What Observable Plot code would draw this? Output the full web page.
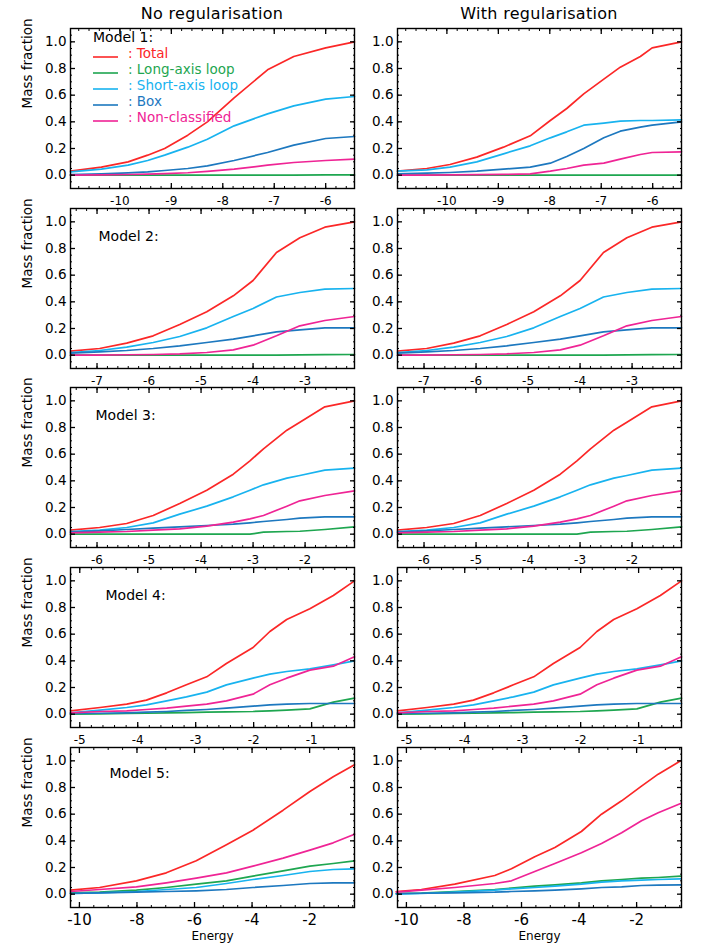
<!DOCTYPE html>
<html><head><meta charset="utf-8">
<script src="https://cdn.jsdelivr.net/npm/d3@7"></script>
<script src="https://cdn.jsdelivr.net/npm/@observablehq/plot@0.6"></script>
<style>
body{margin:0;background:#fff;font-family:"DejaVu Sans",sans-serif;}
#wrap{position:relative;width:709px;height:945px;overflow:hidden;}
.panel{position:absolute;}
.title{position:absolute;top:6px;font-size:16px;line-height:16px;letter-spacing:0.3px;transform:translateX(-50%);white-space:nowrap;color:#000;}
</style></head><body><div id="wrap"></div>
<script>
// ---------- categories / labels ----------
const seriesNames = ["Total","Long-axis loop","Short-axis loop","Box","Non-classified"];
const seriesColors = ["#fb2727","#1ea650","#18b3ef","#1d78bf","#ef2495"];
const columnTitles = ["No regularisation","With regularisation"];
const modelLabels = ["Model 1:","Model 2:","Model 3:","Model 4:","Model 5:"];
const xDomains = [[-10.96,-5.44],[-7.51,-2.05],[-6.51,-1.05],[-5.16,-0.26],[-10.31,-0.44]];
const xMajorTicks = [[-10,-9,-8,-7,-6],[-7,-6,-5,-4,-3],[-6,-5,-4,-3,-2],[-5,-4,-3,-2,-1],[-10,-8,-6,-4,-2]];
const xMinorSteps = [0.2,0.2,0.2,0.2,0.5];
const yMajorTicks = [0,0.2,0.4,0.6,0.8,1.0];
const xAxisTitle = "Energy";
const yAxisTitle = "Mass fraction";

// ---------- Model 1, no regularisation ----------
const m1E     = [-10.96,-10.36,-9.84,-9.46,-9.13,-8.68,-8.30,-7.78,-7.13,-6.62,-6.00,-5.44];
const m1Total = [0.03,0.06,0.10,0.15,0.20,0.30,0.40,0.58,0.79,0.89,0.955,1.0];
const m1Long  = [0,0,0,0,0,0,0,0,0,0,0.002,0.002];
const m1Short = [0.025,0.045,0.075,0.11,0.15,0.21,0.27,0.37,0.46,0.52,0.57,0.59];
const m1Box   = [0.005,0.01,0.017,0.025,0.035,0.05,0.07,0.11,0.17,0.225,0.275,0.29];
const m1Non   = [0,0.002,0.005,0.008,0.012,0.018,0.028,0.045,0.075,0.095,0.11,0.12];
// ---------- Model 1, with regularisation ----------
const m1rE     = [-10.96,-10.39,-9.94,-9.42,-8.90,-8.38,-7.99,-7.67,-7.34,-6.95,-6.63,-6.24,-6.01,-5.44];
const m1rTotal = [0.03,0.05,0.08,0.135,0.21,0.295,0.41,0.50,0.61,0.72,0.81,0.89,0.955,1.0];
const m1rLong  = [0,0,0,0,0,0,0,0,0,0,0,0,0,0];
const m1rShort = [0.03,0.04,0.06,0.10,0.16,0.22,0.28,0.325,0.375,0.39,0.405,0.41,0.41,0.415];
const m1rBox   = [0.01,0.015,0.02,0.03,0.045,0.06,0.09,0.14,0.20,0.28,0.33,0.36,0.375,0.40];
const m1rNon   = [0,0.001,0.002,0.004,0.006,0.01,0.03,0.05,0.075,0.09,0.12,0.155,0.17,0.175];
// ---------- Model 2 ----------
const m2E     = [-7.51,-6.95,-6.43,-5.92,-5.41,-4.89,-4.38,-4.00,-3.55,-3.10,-2.62,-2.05];
const m2Total = [0.03,0.05,0.09,0.145,0.23,0.325,0.445,0.56,0.77,0.88,0.96,1.0];
const m2Long  = [0,0,0,0,0,0,0,0,0,0.002,0.004,0.005];
const m2Short = [0.02,0.035,0.06,0.095,0.14,0.205,0.29,0.35,0.436,0.47,0.495,0.50];
const m2Box   = [0.015,0.025,0.035,0.05,0.07,0.095,0.12,0.145,0.175,0.19,0.205,0.205];
const m2Non   = [0,0.001,0.003,0.005,0.01,0.02,0.04,0.075,0.145,0.22,0.26,0.29];
// ---------- Model 3 ----------
const m3E     = [-6.51,-5.95,-5.43,-4.92,-4.41,-3.89,-3.38,-3.06,-2.80,-2.35,-2.10,-1.62,-1.05];
const m3Total = [0.03,0.05,0.08,0.14,0.23,0.33,0.45,0.55,0.64,0.78,0.84,0.955,1.0];
const m3Long  = [0,0,0,0,0,0,0,0,0.015,0.02,0.022,0.035,0.055];
const m3Short = [0.02,0.03,0.05,0.085,0.15,0.21,0.28,0.33,0.37,0.42,0.44,0.48,0.495];
const m3Box   = [0.015,0.025,0.035,0.045,0.055,0.065,0.075,0.085,0.095,0.11,0.12,0.13,0.13];
const m3Non   = [0.01,0.015,0.02,0.03,0.04,0.06,0.09,0.115,0.14,0.21,0.25,0.29,0.325];
// ---------- Model 4 ----------
const m4E     = [-5.16,-4.65,-4.19,-3.85,-3.50,-3.16,-2.81,-2.47,-2.01,-1.72,-1.43,-1.03,-0.625,-0.26];
const m4Total = [0.025,0.05,0.075,0.105,0.16,0.22,0.28,0.38,0.50,0.62,0.71,0.79,0.89,1.0];
const m4Long  = [0,0.002,0.005,0.007,0.01,0.012,0.015,0.017,0.02,0.025,0.03,0.04,0.09,0.12];
const m4Short = [0.01,0.03,0.05,0.07,0.10,0.13,0.165,0.22,0.27,0.30,0.32,0.34,0.37,0.40];
const m4Box   = [0.005,0.007,0.01,0.015,0.02,0.028,0.035,0.045,0.06,0.07,0.075,0.08,0.08,0.08];
const m4Non   = [0.01,0.02,0.025,0.035,0.045,0.06,0.075,0.10,0.15,0.22,0.27,0.33,0.36,0.43];
// ---------- Model 5, no regularisation ----------
const m5E     = [-10.31,-9.30,-8.02,-6.98,-5.94,-4.89,-3.97,-2.92,-1.99,-1.18,-0.44];
const m5Total = [0.03,0.05,0.10,0.16,0.25,0.37,0.48,0.63,0.77,0.88,0.97];
const m5Long  = [0.01,0.015,0.03,0.05,0.075,0.10,0.135,0.175,0.21,0.23,0.25];
const m5Short = [0.005,0.01,0.02,0.035,0.05,0.08,0.11,0.14,0.17,0.185,0.19];
const m5Box   = [0.005,0.01,0.015,0.02,0.025,0.035,0.05,0.065,0.08,0.085,0.085];
const m5Non   = [0.02,0.035,0.055,0.085,0.12,0.16,0.21,0.27,0.33,0.385,0.45];
// ---------- Model 5, with regularisation ----------
const m5rE     = [-10.35,-9.48,-8.32,-6.93,-6.35,-5.54,-4.84,-3.92,-3.22,-2.52,-1.83,-1.25,-0.47];
const m5rTotal = [0.02,0.035,0.075,0.14,0.19,0.28,0.35,0.47,0.60,0.70,0.81,0.90,1.0];
const m5rLong  = [0.005,0.008,0.02,0.035,0.045,0.06,0.07,0.085,0.10,0.11,0.12,0.125,0.135];
const m5rShort = [0.0,0.005,0.015,0.03,0.04,0.05,0.06,0.075,0.09,0.10,0.105,0.11,0.115];
const m5rBox   = [0.005,0.007,0.01,0.015,0.02,0.025,0.03,0.04,0.05,0.055,0.065,0.068,0.07];
const m5rNon   = [0.015,0.03,0.05,0.08,0.10,0.17,0.23,0.31,0.38,0.46,0.55,0.61,0.68];

// ---------- panel table (rows = models, cols = no reg / with reg) ----------
const panels = [
  [{E:m1E, v:[m1Total,m1Long,m1Short,m1Box,m1Non]}, {E:m1rE, v:[m1rTotal,m1rLong,m1rShort,m1rBox,m1rNon]}],
  [{E:m2E, v:[m2Total,m2Long,m2Short,m2Box,m2Non]}, {E:m2E, v:[m2Total,m2Long,m2Short,m2Box,m2Non]}],
  [{E:m3E, v:[m3Total,m3Long,m3Short,m3Box,m3Non]}, {E:m3E, v:[m3Total,m3Long,m3Short,m3Box,m3Non]}],
  [{E:m4E, v:[m4Total,m4Long,m4Short,m4Box,m4Non]}, {E:m4E, v:[m4Total,m4Long,m4Short,m4Box,m4Non]}],
  [{E:m5E, v:[m5Total,m5Long,m5Short,m5Box,m5Non]}, {E:m5rE, v:[m5rTotal,m5rLong,m5rShort,m5rBox,m5rNon]}]
];

// ---------- layout ----------
const boxTops = [28,208,387,567,747];
const BOX_H = 160, ML = 70, MR = 4, MT = 4, PLOT_W = 358;
const colLeft = [0, 327];
const titleCenters = [212, 539];
const labelDx = [23, 28, 25, 35, 39];
const labelDy = [9, 23, 23, 23, 21];
const FONT = "DejaVu Sans";

const wrap = document.getElementById("wrap");

function rangeIn(dom, step) {
  const out = [];
  const start = Math.ceil(dom[0] / step - 1e-9);
  for (let k = start; k * step <= dom[1] + 1e-9; k++) out.push(+(k * step).toFixed(4));
  return out;
}

function makePanel(row, col) {
  const d = panels[row][col];
  const data = d.v.flatMap((vals, si) => d.E.map((e, i) => ({energy: e, frac: vals[i], series: seriesNames[si]})));
  const last = row === 4;
  const mb = last ? 38 : 20;
  const dom = xDomains[row];
  const minorX = rangeIn(dom, xMinorSteps[row]);
  const minorY = rangeIn([-0.1, 1.1], 0.05);
  const marks = [
    Plot.line(data, {x: "energy", y: "frac", z: "series", stroke: "series", strokeWidth: 1.7}),
    Plot.frame({stroke: "#000", strokeWidth: 1.4}),
    Plot.axisY({anchor: "left", ticks: yMajorTicks, tickSize: 0, tickPadding: 4, tickFormat: d3.format(".1f"), fontSize: 13.5, label: null}),
    Plot.axisX({anchor: "bottom", ticks: xMajorTicks[row], tickSize: 0, tickPadding: last ? 7 : 8, tickFormat: v => String(v), fontSize: last ? 15 : 12, label: null})
  ];
  for (const a of ["left", "right"]) {
    marks.push(Plot.axisY({anchor: a, ticks: yMajorTicks, tickSize: -5, fill: "none", label: null, strokeWidth: 1.3}));
    marks.push(Plot.axisY({anchor: a, ticks: minorY, tickSize: -2, fill: "none", label: null}));
  }
  for (const a of ["top", "bottom"]) {
    marks.push(Plot.axisX({anchor: a, ticks: xMajorTicks[row], tickSize: -5, fill: "none", label: null, strokeWidth: 1.3}));
    marks.push(Plot.axisX({anchor: a, ticks: minorX, tickSize: -2, fill: "none", label: null}));
  }
  if (col === 0) {
    marks.push(Plot.text([yAxisTitle], {frameAnchor: "left", rotate: -90, dx: -43, fontSize: 13.5, fill: "#000"}));
    if (row > 0) marks.push(Plot.text([modelLabels[row]], {frameAnchor: "top-left", dx: labelDx[row], dy: labelDy[row], textAnchor: "start", fontSize: 14, fill: "#000"}));
  }
  if (last) marks.push(Plot.text([xAxisTitle], {frameAnchor: "bottom", dy: 32, fontSize: 12, fill: "#000"}));
  const svg = Plot.plot({
    width: PLOT_W, height: MT + BOX_H + mb,
    marginLeft: ML, marginRight: MR, marginTop: MT, marginBottom: mb,
    style: {background: "transparent", overflow: "visible", fontFamily: FONT, color: "#000"},
    x: {domain: dom},
    y: {domain: [-0.1, 1.1]},
    color: {domain: seriesNames, range: seriesColors},
    marks
  });
  svg.classList.add("panel");
  svg.style.position = "absolute";
  svg.style.left = colLeft[col] + "px";
  svg.style.top = (boxTops[row] - MT) + "px";
  wrap.appendChild(svg);
}

for (let r = 0; r < 5; r++) for (let c = 0; c < 2; c++) makePanel(r, c);

// column titles
columnTitles.forEach((t, i) => {
  const div = document.createElement("div");
  div.className = "title";
  div.style.left = titleCenters[i] + "px";
  div.textContent = t;
  wrap.appendChild(div);
});

// legend (Model 1, left panel)
const lg = d3.select(wrap).append("svg")
  .attr("width", 190).attr("height", 100)
  .style("position", "absolute").style("left", "90px").style("top", "28px")
  .style("font-family", FONT);
lg.append("text").attr("x", 3).attr("y", 9).attr("dy", "0.35em").attr("font-size", 14).text(modelLabels[0]);
seriesNames.forEach((n, i) => {
  const y = 25 + i * 16;
  lg.append("line").attr("x1", 3).attr("x2", 28).attr("y1", y + 4).attr("y2", y + 4)
    .attr("stroke", seriesColors[i]).attr("stroke-width", 1.6);
  lg.append("text").attr("x", 38).attr("y", y).attr("dy", "0.35em").attr("font-size", 13.5)
    .attr("fill", seriesColors[i]).text(": " + n);
});
</script>
</body></html>
